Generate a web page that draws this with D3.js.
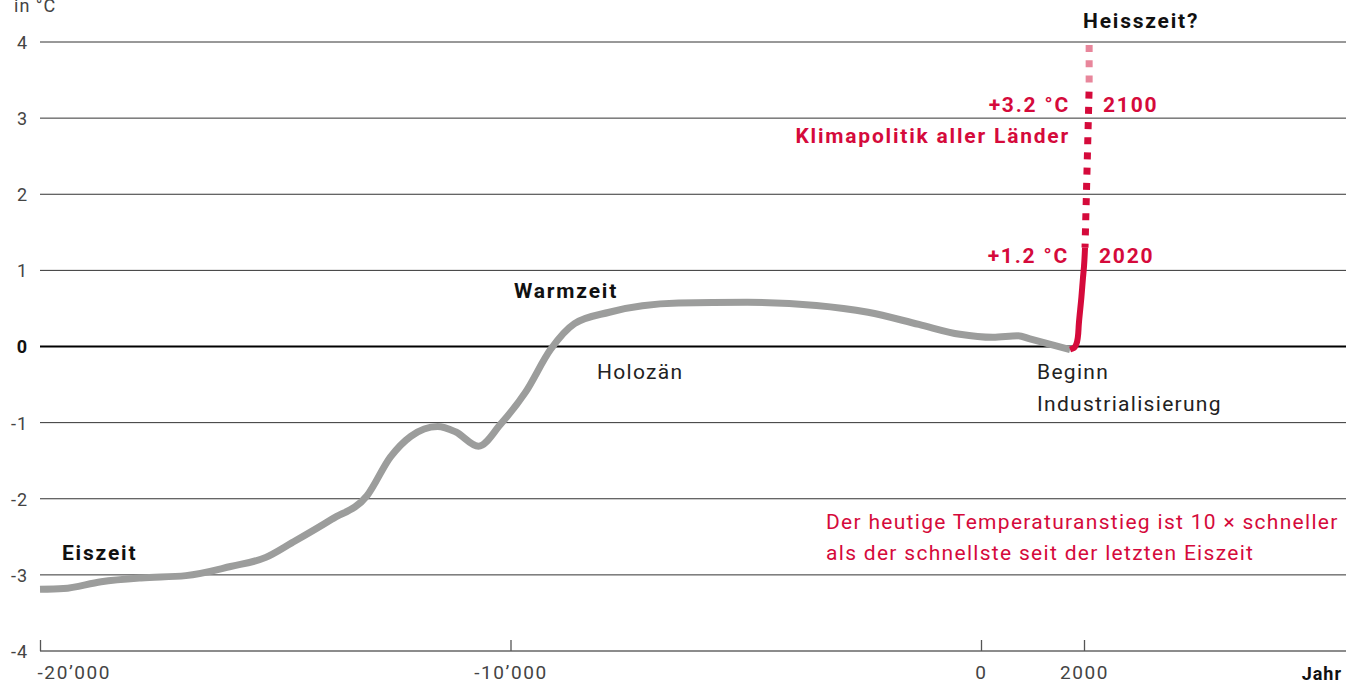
<!DOCTYPE html>
<html>
<head>
<meta charset="utf-8">
<script src="https://cdn.jsdelivr.net/npm/d3@7"></script>
<style>
  body { margin: 0; background: #fff; }
  svg text { font-family: Roboto, "Liberation Sans", sans-serif; }
  .lbl { font-size: 21px; letter-spacing: 1.3px; fill: #222; }
  .bold { font-weight: 700; fill: #111; letter-spacing: 1.8px; }
  .red { fill: #d50a3b; }
  .tick text { font-size: 18px; fill: #444; letter-spacing: 1px; }
</style>
</head>
<body>
<div id="chart"></div>
<script>
// temperature reconstruction, deviation in °C
var years = [-20000, -19500, -18700, -17850, -16900, -15950, -15200, -14650, -13800, -13050,
             -12550, -12120, -11550, -11170, -10680, -10210, -9680, -9150, -8640, -7900,
             -6430, -4970, -3500, -2400, -1320, -450, 230, 720, 950, 1730];
var temps = [-3.19, -3.18, -3.09, -3.04, -3.01, -2.89, -2.77, -2.58, -2.27, -1.96,
             -1.45, -1.18, -1.05, -1.12, -1.31, -1.02, -0.60, -0.04, 0.30, 0.45,
             0.57, 0.58, 0.54, 0.45, 0.29, 0.16, 0.12, 0.14, 0.10, -0.04];

// industrial warming
var indYears = [1730, 1800, 1850, 1880, 1900, 1950, 1980, 2000, 2020];
var indTemps = [-0.04, -0.02, 0.03, 0.12, 0.3, 0.65, 0.9, 1.05, 1.3];

// projection to 2100 (top down) and beyond
var projYears = [2100, 2020];
var projTemps = [3.4, 1.3];
var hotYears = [2100, 2100];
var hotTemps = [4.0, 3.4];

var yTicks = [4, 3, 2, 1, 0, -1, -2, -3, -4];
var xTicks = [-20000, -10000, 0, 2000];
var xTickLabels = ["-20’000", "-10’000", "0", "2000"];

var W = 1346, H = 684;
var svg = d3.select("#chart").append("svg")
    .attr("width", W).attr("height", H);

// time axis is stretched after year 0
var x = d3.scaleLinear().domain([-20000, 0, 2000, 7090]).range([40, 981, 1084, 1346]);
var y = d3.scaleLinear().domain([-4, 4]).range([651, 42]);

// grid
svg.append("g").selectAll("line")
  .data(yTicks.filter(function(d){ return d > -4; }))
  .enter().append("line")
  .attr("x1", 40).attr("x2", W)
  .attr("y1", function(d){ return y(d); })
  .attr("y2", function(d){ return y(d); })
  .attr("stroke", function(d){ return d == 0 ? "#000" : "#333"; })
  .attr("stroke-width", function(d){ return d == 0 ? 2.2 : 1; });

// y labels
var yAxis = svg.append("g")
    .attr("transform", "translate(28,0)")
    .call(d3.axisLeft(y).tickValues(yTicks).tickSize(0).tickPadding(0)
      .tickFormat(function(d){ return d < 0 ? "-" + Math.abs(d) : d; }));
yAxis.select(".domain").remove();
yAxis.selectAll(".tick text").attr("dy", "0.36em")
  .style("font-weight", function(d){ return d == 0 ? 700 : 400; })
  .style("fill", function(d){ return d == 0 ? "#111" : "#444"; });

svg.append("text").attr("class", "lbl")
  .attr("x", 14).attr("y", 12).style("font-size", "18px").style("fill", "#444")
  .style("letter-spacing", "1px")
  .text("in °C");

// x axis
var xAxis = svg.append("g")
    .attr("transform", "translate(0," + y(-4) + ")")
    .call(d3.axisBottom(x).tickValues(xTicks).tickSize(-11).tickPadding(0)
      .tickFormat(function(d, i){ return xTickLabels[i]; }));
xAxis.select(".domain").attr("d", "M40,0H" + W).attr("stroke", "#666").attr("stroke-width", 1.5);
xAxis.selectAll(".tick line").attr("stroke", "#555").attr("stroke-width", 1.3);
xAxis.selectAll(".tick text").attr("y", 28).attr("dy", 0)
  .style("font-size", "19px").style("letter-spacing", "1.6px")
  .attr("text-anchor", function(d, i){ return i == 0 ? "start" : "middle"; })
  .attr("dx", function(d, i){ return i == 0 ? -3 : 0; });

svg.append("text").attr("class", "lbl bold")
  .attr("x", W - 4).attr("y", 680).attr("text-anchor", "end")
  .style("font-size", "18px").style("letter-spacing", "1px").text("Jahr");

// curves
var line = d3.line()
    .x(function(d){ return x(d[0]); })
    .y(function(d){ return y(d[1]); })
    .curve(d3.curveMonotoneX);

svg.append("path")
  .datum(d3.zip(years, temps))
  .attr("d", line)
  .attr("fill", "none").attr("stroke", "#9c9d9c")
  .attr("stroke-width", 7).attr("stroke-linejoin", "round");

var straight = d3.line()
    .x(function(d){ return x(d[0]); })
    .y(function(d){ return y(d[1]); });

svg.append("path")
  .datum(d3.zip(hotYears, hotTemps))
  .attr("d", straight)
  .attr("fill", "none").attr("stroke", "#e8869b")
  .attr("stroke-width", 7).attr("stroke-dasharray", "7,8.3").attr("stroke-dashoffset", 12.3);

svg.append("path")
  .datum(d3.zip(projYears, projTemps))
  .attr("d", straight)
  .attr("fill", "none").attr("stroke", "#d50a3b")
  .attr("stroke-width", 7).attr("stroke-dasharray", "7,8.2").attr("stroke-dashoffset", 11.2);

svg.append("path")
  .datum(d3.zip(indYears, indTemps))
  .attr("d", d3.line().x(function(d){ return x(d[0]); }).y(function(d){ return y(d[1]); })
    .curve(d3.curveMonotoneY))
  .attr("fill", "none").attr("stroke", "#d50a3b")
  .attr("stroke-width", 6).attr("stroke-linecap", "butt");

// annotations
function label(tx, ty, txt, cls, anchor){
  svg.append("text").attr("class", "lbl " + (cls || ""))
    .attr("x", tx).attr("y", ty)
    .attr("text-anchor", anchor || "start")
    .text(txt);
}

label(x(2000) - 1, 28, "Heisszeit?", "bold");
label(1070, 112, "+3.2 °C", "bold red", "end");
label(1103, 112, "2100", "bold red");
label(1070, 143, "Klimapolitik aller Länder", "bold red", "end");
label(1069, 263, "+1.2 °C", "bold red", "end");
label(1099, 263, "2020", "bold red");
label(514, 298, "Warmzeit", "bold");
label(597, 379, "Holozän");
label(1037, 379, "Beginn");
label(1037, 411, "Industrialisierung");
label(62, 560, "Eiszeit", "bold");
label(826, 529, "Der heutige Temperaturanstieg ist 10 × schneller", "red");
label(826, 560, "als der schnellste seit der letzten Eiszeit", "red");
</script>
</body>
</html>
